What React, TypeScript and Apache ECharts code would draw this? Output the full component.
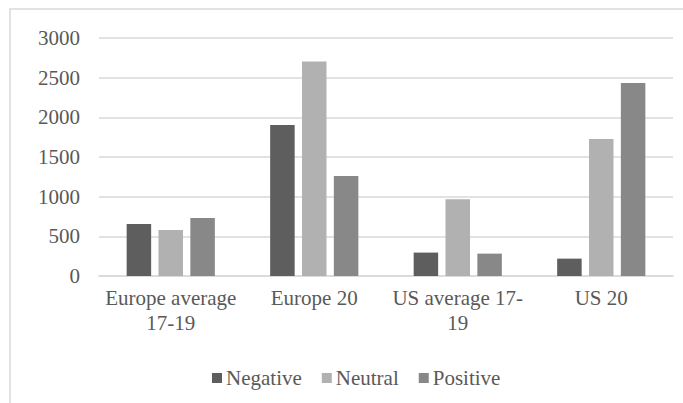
import React, { useEffect, useRef } from "react";
import * as echarts from "echarts";

const categories = ["Europe average\n17-19", "Europe 20", "US average 17-\n19", "US 20"];
const negative = [655, 1904, 295, 219];
const neutral = [579, 2703, 967, 1728];
const positive = [730, 1261, 282, 2434];
const seriesNames = ["Negative", "Neutral", "Positive"];

const FONT = "Liberation Serif";
const TEXT = "#595959";
const GRID = "#d9d9d9";

export default function App() {
  const ref = useRef<HTMLDivElement>(null);

  useEffect(() => {
    if (!ref.current) return;
    const chart = echarts.init(ref.current, null, { renderer: "svg" });
    const bar = (name: string, data: number[], color: string) => ({
      name,
      type: "bar",
      data,
      barWidth: 24.5,
      barGap: "30%",
      itemStyle: { color },
    });
    chart.setOption({
      animation: false,
      backgroundColor: "#ffffff",
      textStyle: { fontFamily: FONT },
      graphic: [
        {
          type: "rect",
          shape: { x: 10, y: 9, width: 720, height: 440 },
          style: { fill: "none", stroke: GRID, lineWidth: 1.5 },
          silent: true,
        },
      ],
      grid: { left: 99, right: 10, top: 38, bottom: 127 },
      legend: {
        data: seriesNames,
        left: 207,
        top: 361,
        icon: "rect",
        itemWidth: 10,
        itemHeight: 10,
        itemGap: 20,
        textStyle: { color: TEXT, fontFamily: FONT, fontSize: 21, lineHeight: 24, padding: [0, 0, 0, -1] },
      },
      xAxis: {
        type: "category",
        data: categories,
        axisLine: { lineStyle: { color: GRID, width: 1.5 } },
        axisTick: { show: false },
        axisLabel: {
          interval: 0,
          color: TEXT,
          fontFamily: FONT,
          fontSize: 21,
          lineHeight: 25,
          margin: 9,
        },
      },
      yAxis: {
        type: "value",
        min: 0,
        max: 3000,
        interval: 500,
        axisLine: { show: false },
        axisTick: { show: false },
        splitLine: { lineStyle: { color: GRID, width: 1.5 } },
        axisLabel: {
          color: TEXT,
          fontFamily: FONT,
          fontSize: 21,
          margin: 19,
          formatter: (v: number) => String(v),
        },
      },
      series: [
        bar(seriesNames[0], negative, "#5e5e5e"),
        bar(seriesNames[1], neutral, "#b1b1b1"),
        bar(seriesNames[2], positive, "#888888"),
      ],
    });
    return () => chart.dispose();
  }, []);

  return (
    <div
      ref={ref}
      style={{ position: "fixed", left: 0, top: 0, width: 683, height: 403, overflow: "hidden" }}
    />
  );
}
